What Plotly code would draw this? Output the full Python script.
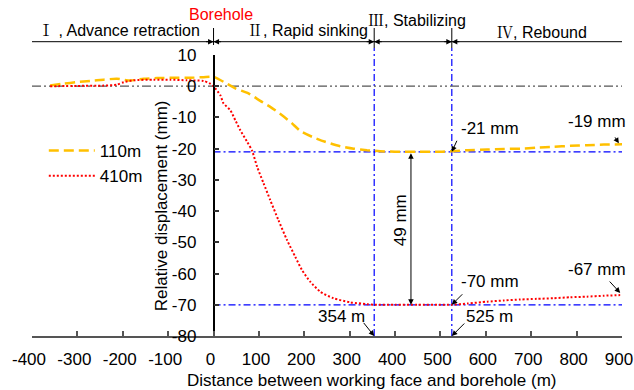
import plotly.graph_objects as go

# ---------------- data ----------------
x_110 = [-360, -331, -301, -272, -242, -213, -184, -154, -125, -88, -51, -22, 0,
         26, 48, 77, 103, 125, 151, 173, 191, 217, 246, 279, 309, 338, 367, 400,
         450, 500, 525, 560, 603, 640, 676, 712, 749, 786, 823, 860, 900]
y_110 = [0.2, 0.8, 1.3, 1.7, 2.1, 2.4, 1.8, 2.4, 2.6, 2.7, 2.7, 2.9, 3.0,
         1.1, -0.7, -2.3, -4.7, -6.6, -9.3, -11.9, -14.3, -16.2, -17.8, -19.2, -20.0, -20.5, -20.8, -21.0,
         -21.0, -21.0, -20.8, -20.5, -20.3, -20.1, -20.0, -19.7, -19.4, -19.1, -18.9, -18.7, -18.6]

x_410 = [-360, -300, -242, -213, -198, -176, -132, -95, -59, -22, -7, 0,
         15, 22, 37, 48, 59, 74, 85, 96, 110, 125, 143, 162, 180, 195, 213, 235,
         264, 301, 338, 356, 400, 450, 500, 525, 560, 603, 640, 676, 712, 749,
         786, 823, 860, 896]
y_410 = [0.0, 0.1, 0.2, 0.5, 1.3, 1.9, 2.1, 2.1, 1.9, 1.7, 0.8, 0.0,
         -2.9, -5.5, -7.7, -10.9, -14.1, -17.8, -20.7, -25.8, -31.0, -36.5, -42.9, -49.3, -54.6, -58.9, -62.6, -65.8,
         -67.9, -69.2, -69.8, -70.0, -70.0, -70.0, -70.0, -70.0, -69.6, -69.0, -68.6, -68.3, -68.1, -67.9,
         -67.6, -67.4, -67.1, -66.9]

series_names = ["110m", "410m"]
x_range = [-400, 900]
y_range = [-80, 10]
x_ticks = [-400, -300, -200, -100, 0, 100, 200, 300, 400, 500, 600, 700, 800, 900]
y_ticks = [-80, -70, -60, -50, -40, -30, -20, -10, 0, 10]

stage_bounds = [0, 354, 525]           # borehole, end of rapid sinking, end of stabilizing
stable_levels = [-21, -70]             # stabilized displacement levels
stage_numerals = ["Ⅰ", "Ⅱ", "Ⅲ", "Ⅳ"]
stage_names = [" , Advance retraction", ", Rapid sinking", ", Stabilizing", ", Rebound"]
stage_label_x = [-208, 206, 448, 724]
stage_label_y = [1.089, 1.089, 1.127, 1.085]
borehole_label = "Borehole"
diff_label = "49 mm"
diff_x = 435

# value callouts: text, text x, text y, tip x, tip y, arrow tail offset (px)
callouts = [
    ("-21 mm", 610, -13.5, 525, -21, 6, -13),
    ("-19 mm", 845, -11.4, 893, -18.3, -5, -8),
    ("-70 mm", 610, -62.6, 525, -70, 12, -12),
    ("-67 mm", 845, -58.6, 896, -66.2, -12, -13),
    ("525 m", 609, -73.8, 525, -80, 14, -14),
    ("354 m", 283, -73.6, 354, -80, -12, -15),
]

FONT = "Liberation Sans, Arial, sans-serif"
NUMFONT = "Noto Serif CJK SC, Noto Sans CJK SC, DejaVu Serif, serif"
W, H = 634, 390
ML, MR, MT, MB = 32, 12, 55, 54
PH = H - MT - MB


def py(px):
    """pixel row -> paper y"""
    return (H - MB - px) / PH


def hyphen(v):
    return str(v).replace("\u2212", "-")


fig = go.Figure()
fig.add_trace(go.Scatter(x=x_110, y=y_110, mode="lines", name=series_names[0],
                         line=dict(color="#FFC000", width=2.5, dash="10px,5px", shape="spline", smoothing=0.6)))
fig.add_trace(go.Scatter(x=x_410, y=y_410, mode="lines", name=series_names[1],
                         line=dict(color="#FF0000", width=2, dash="2px,2px", shape="spline", smoothing=0.6)))

shapes = []
# zero reference line
shapes.append(dict(type="line", xref="x", yref="y", x0=x_range[0], x1=x_range[1], y0=0, y1=0,
                   line=dict(color="#555555", width=1.2, dash="9px,3px,2px,3px,2px,3px"), layer="below"))
# stabilized levels
for lv in stable_levels:
    shapes.append(dict(type="line", xref="x", yref="y", x0=0, x1=x_range[1], y0=lv, y1=lv,
                       line=dict(color="#0000FF", width=1.2, dash="7px,3px,2px,3px"), layer="below"))
# stage boundaries (blue verticals)
for b in stage_bounds[1:]:
    shapes.append(dict(type="line", xref="x", yref="paper", x0=b, x1=b, y0=0, y1=py(48),
                       line=dict(color="#0000FF", width=1.2, dash="7px,3px,2px,3px"), layer="below"))
# top stage ruler
top_y = py(41.7)
shapes.append(dict(type="line", xref="x", yref="paper", x0=x_range[0], x1=x_range[1], y0=top_y, y1=top_y,
                   line=dict(color="black", width=1)))
for i, b in enumerate(stage_bounds):
    shapes.append(dict(type="line", xref="x", yref="paper", x0=b, x1=b, y0=py(28),
                       y1=py(45) if i == 0 else py(48), line=dict(color="black", width=1)))

annotations = []
# ruler arrowheads
for b in stage_bounds:
    for side in (-1, 1):
        annotations.append(dict(x=b, y=top_y, xref="x", yref="paper", text=" ", font=dict(size=1),
                                showarrow=True, ax=side * 9, ay=0, arrowhead=2, arrowsize=1.1,
                                arrowwidth=1, arrowcolor="black", standoff=0, startstandoff=0))
# stage labels
for num, nm, sx, sy in zip(stage_numerals, stage_names, stage_label_x, stage_label_y):
    t = "<span style=\"font-family:" + NUMFONT + "\">" + num + "</span>" + nm
    annotations.append(dict(x=sx, y=sy, xref="x", yref="paper", text=t, showarrow=False,
                            font=dict(family=FONT, size=16, color="black"), xanchor="center", yanchor="middle"))
annotations.append(dict(x=17, y=py(14.5), xref="x", yref="paper", text=borehole_label, showarrow=False,
                        font=dict(family=FONT, size=16, color="#FF0000"), xanchor="center", yanchor="middle"))
# 49 mm double arrow
annotations.append(dict(x=diff_x, y=stable_levels[1], ax=diff_x, ay=stable_levels[0], xref="x", yref="y",
                        axref="x", ayref="y", text="", showarrow=True, arrowhead=2, arrowside="end+start",
                        arrowsize=1.1, arrowwidth=1, arrowcolor="black", standoff=0, startstandoff=0))
annotations.append(dict(x=411, y=-42.9, xref="x", yref="y", text=diff_label, showarrow=False, textangle=-90,
                        font=dict(family=FONT, size=17, color="black"), xanchor="center", yanchor="middle"))
# callouts
for t, tx, ty, px_, py_, ax, ay in callouts:
    annotations.append(dict(x=tx, y=ty, xref="x", yref="y", text=t, showarrow=False,
                            font=dict(family=FONT, size=17, color="black"), xanchor="center", yanchor="middle"))
    annotations.append(dict(x=px_, y=py_, xref="x", yref="y", text=" ", font=dict(size=1), showarrow=True,
                            ax=ax, ay=ay, arrowhead=2, arrowsize=1.1, arrowwidth=1, arrowcolor="black",
                            standoff=0, startstandoff=0))
# axis titles
annotations.append(dict(x=(371.7 - ML) / (W - ML - MR), y=py(380), xref="paper", yref="paper",
                        text="Distance between working face and borehole (m)", showarrow=False,
                        font=dict(family=FONT, size=17, color="black"), xanchor="center", yanchor="middle"))
annotations.append(dict(x=(161.7 - ML) / (W - ML - MR), y=py(205.5), xref="paper", yref="paper",
                        text="Relative displacement (mm)", showarrow=False, textangle=-90,
                        font=dict(family=FONT, size=17, color="black"), xanchor="center", yanchor="middle"))

fig.update_layout(
    width=W, height=H,
    margin=dict(l=ML, r=MR, t=MT, b=MB, pad=0, autoexpand=False),
    paper_bgcolor="white", plot_bgcolor="white",
    font=dict(family=FONT, size=17, color="black"),
    shapes=shapes, annotations=annotations,
    showlegend=True,
    legend=dict(x=0.02, y=py(133), xref="paper", yref="paper", xanchor="left", yanchor="top",
                bgcolor="rgba(0,0,0,0)", font=dict(family=FONT, size=17), itemwidth=46,
                tracegroupgap=0),
    xaxis=dict(range=x_range, tickmode="array", tickvals=x_ticks, ticktext=[hyphen(v) for v in x_ticks],
               showgrid=False, zeroline=False, automargin=False,
               showline=True, linecolor="#555555", linewidth=2, ticks="inside", ticklen=5,
               tickwidth=1.5, tickcolor="#555555", ticklabelstandoff=7, ticklabelshift=-3,
               ticklabeloverflow="allow",
               tickfont=dict(family=FONT, size=17, color="black")),
    yaxis=dict(range=y_range, tickmode="array", tickvals=y_ticks, ticktext=[hyphen(v) for v in y_ticks],
               showgrid=False, zeroline=False, automargin=False,
               anchor="free", position=(0 - x_range[0]) / (x_range[1] - x_range[0]),
               showline=True, linecolor="black", linewidth=1.5, ticks="inside", ticklen=5,
               tickwidth=1.5, tickcolor="#333333", ticklabelstandoff=13,
               tickfont=dict(family=FONT, size=17, color="black")),
)

fig.write_html("out.html")
